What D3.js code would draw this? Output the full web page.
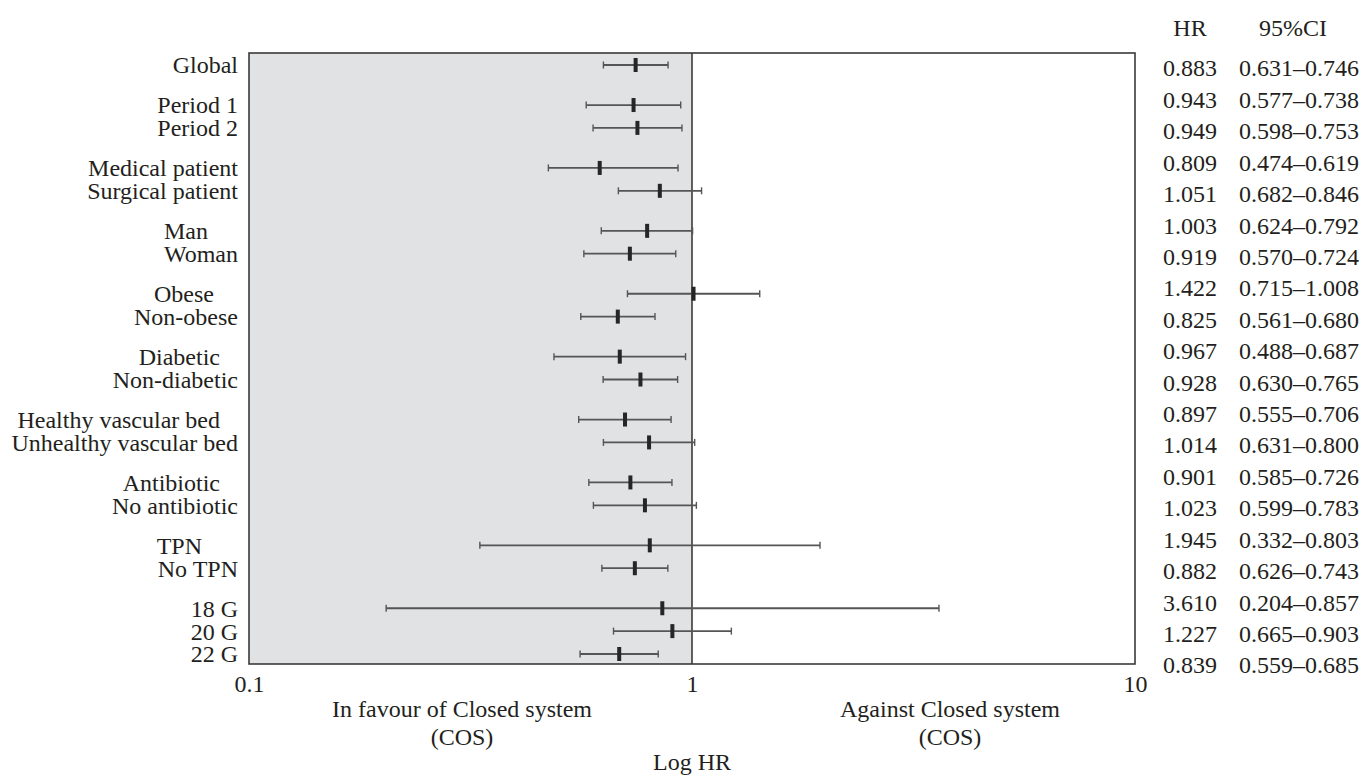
<!DOCTYPE html>
<html>
<head>
<meta charset="utf-8">
<script src="https://cdn.jsdelivr.net/npm/d3@7"></script>
<style>
  body { margin: 0; background: #fff; }
  svg text { font-family: "Liberation Serif", "Times New Roman", serif; fill: #231f20; white-space: pre; }
</style>
</head>
<body>
<div id="canvas"></div>
<script>
// Grupos de filas (cada grupo se separa con un espacio extra).
// Algunas etiquetas llevan espacios al final, como en la figura original.
const groups = [
  ["Global"],
  ["Period 1", "Period 2"],
  ["Medical patient", "Surgical patient"],
  ["Man\u00a0\u00a0\u00a0\u00a0\u00a0", "Woman"],
  ["Obese\u00a0\u00a0\u00a0\u00a0", "Non-obese"],
  ["Diabetic\u00a0\u00a0\u00a0", "Non-diabetic"],
  ["Healthy vascular bed\u00a0\u00a0\u00a0", "Unhealthy vascular bed"],
  ["Antibiotic\u00a0\u00a0\u00a0", "No antibiotic"],
  ["TPN\u00a0\u00a0\u00a0\u00a0\u00a0\u00a0", "No TPN"],
  ["18 G", "20 G", "22 G"]
];

// Columnas de la tabla (tal como aparecen a la derecha)
const hrValues = [0.883, 0.943, 0.949, 0.809, 1.051, 1.003, 0.919, 1.422, 0.825, 0.967,
  0.928, 0.897, 1.014, 0.901, 1.023, 1.945, 0.882, 3.610, 1.227, 0.839];
const ciLow = [0.631, 0.577, 0.598, 0.474, 0.682, 0.624, 0.570, 0.715, 0.561, 0.488,
  0.630, 0.555, 0.631, 0.585, 0.599, 0.332, 0.626, 0.204, 0.665, 0.559];
const ciHigh = [0.746, 0.738, 0.753, 0.619, 0.846, 0.792, 0.724, 1.008, 0.680, 0.687,
  0.765, 0.706, 0.800, 0.726, 0.783, 0.803, 0.743, 0.857, 0.903, 0.685];

// Extremo derecho dibujado de cada barra (en la figura coincide con la columna HR,
// salvo "Medical patient", cuya barra llega mas lejos de lo que dice la tabla)
const whiskerEnd = [0.883, 0.943, 0.949, 0.93, 1.051, 1.003, 0.919, 1.422, 0.825, 0.967,
  0.928, 0.897, 1.014, 0.901, 1.023, 1.945, 0.882, 3.610, 1.227, 0.839];

const xTicks = [0.1, 1, 10];

// Aplanar los grupos en filas
const rows = [];
groups.forEach((g, gi) => {
  g.forEach(label => {
    const i = rows.length;
    rows.push({
      label: label,
      slot: i + gi * 0.75,
      lo: ciLow[i],
      mid: ciHigh[i],
      hr: hrValues[i],
      end: whiskerEnd[i]
    });
  });
});

const width = 1362;
const height = 775;
const plot = { left: 249, right: 1135, top: 53, bottom: 664 };
const fontSize = "24px";

const svg = d3.select("#canvas")
  .append("svg")
  .attr("width", width)
  .attr("height", height);

const x = d3.scaleLog()
  .domain([0.1, 10])
  .range([plot.left, plot.right]);

const y = d3.scaleLinear()
  .domain([0, d3.max(rows, d => d.slot)])
  .range([65, 654]);

// Filas de la tabla, espaciadas de manera uniforme
const yTable = d3.scalePoint()
  .domain(d3.range(rows.length))
  .range([68, 665]);

// Zona sombreada (a favor de COS)
svg.append("rect")
  .attr("x", x(0.1))
  .attr("y", plot.top)
  .attr("width", x(1) - x(0.1))
  .attr("height", plot.bottom - plot.top)
  .style("fill", "#e1e2e4");

// Linea de referencia en HR = 1
svg.append("line")
  .attr("x1", x(1))
  .attr("x2", x(1))
  .attr("y1", plot.top)
  .attr("y2", plot.bottom)
  .style("stroke", "#3a3a3a")
  .style("stroke-width", 1.6);

// Marco
svg.append("rect")
  .attr("x", plot.left)
  .attr("y", plot.top)
  .attr("width", plot.right - plot.left)
  .attr("height", plot.bottom - plot.top)
  .style("fill", "none")
  .style("stroke", "#3a3a3a")
  .style("stroke-width", 1.6);

// Eje x (solo etiquetas)
const xAxis = svg.append("g")
  .attr("transform", `translate(0,${plot.bottom})`)
  .call(d3.axisBottom(x).tickValues(xTicks).tickFormat(d3.format("")).tickSize(0).tickPadding(20));
xAxis.select(".domain").remove();
xAxis.selectAll("text")
  .style("font-size", fontSize)
  .attr("dy", "0.35em")
  .attr("fill", "#231f20");

// Intervalos de confianza
const ci = svg.selectAll(".ci")
  .data(rows)
  .enter()
  .append("g")
  .attr("class", "ci");

ci.append("line")
  .attr("x1", d => x(d.lo))
  .attr("x2", d => x(d.end))
  .attr("y1", d => y(d.slot))
  .attr("y2", d => y(d.slot))
  .style("stroke", "#555")
  .style("stroke-width", 1.8);

ci.selectAll(".cap")
  .data(d => [[d.lo, d.slot], [d.end, d.slot]])
  .enter()
  .append("line")
  .attr("class", "cap")
  .attr("x1", d => x(d[0]))
  .attr("x2", d => x(d[0]))
  .attr("y1", d => y(d[1]) - 3.5)
  .attr("y2", d => y(d[1]) + 3.5)
  .style("stroke", "#555")
  .style("stroke-width", 1.4);

ci.append("rect")
  .attr("x", d => x(d.mid) - 2)
  .attr("y", d => y(d.slot) - 7)
  .attr("width", 4)
  .attr("height", 14)
  .style("fill", "#262626");

// Etiquetas de las filas
svg.selectAll(".label")
  .data(rows)
  .enter()
  .append("text")
  .attr("class", "label")
  .attr("x", 238)
  .attr("y", d => y(d.slot))
  .attr("dy", "0.35em")
  .style("text-anchor", "end")
  .style("font-size", fontSize)
  .text(d => d.label);

// Tabla a la derecha
const fmt = d3.format(".3f");

svg.append("text")
  .attr("x", 1190)
  .attr("y", 28)
  .attr("dy", "0.35em")
  .style("text-anchor", "middle")
  .style("font-size", fontSize)
  .text("HR");

svg.append("text")
  .attr("x", 1293)
  .attr("y", 28)
  .attr("dy", "0.35em")
  .style("text-anchor", "middle")
  .style("font-size", fontSize)
  .text("95%CI");

svg.selectAll(".hr")
  .data(rows)
  .enter()
  .append("text")
  .attr("class", "hr")
  .attr("x", 1217)
  .attr("y", (d, i) => yTable(i))
  .attr("dy", "0.35em")
  .style("text-anchor", "end")
  .style("font-size", fontSize)
  .text(d => fmt(d.hr));

svg.selectAll(".cival")
  .data(rows)
  .enter()
  .append("text")
  .attr("class", "cival")
  .attr("x", 1239)
  .attr("y", (d, i) => yTable(i))
  .attr("dy", "0.35em")
  .style("text-anchor", "start")
  .style("font-size", fontSize)
  .text(d => fmt(d.lo) + "\u2013" + fmt(d.mid));

// Titulos del eje x
const xLabels = svg.append("g").style("font-size", fontSize).style("text-anchor", "middle");
xLabels.append("text").attr("x", 462).attr("y", 717).text("In favour of Closed system");
xLabels.append("text").attr("x", 462).attr("y", 745).text("(COS)");
xLabels.append("text").attr("x", 950).attr("y", 717).text("Against Closed system");
xLabels.append("text").attr("x", 950).attr("y", 745).text("(COS)");
xLabels.append("text").attr("x", x(1)).attr("y", 770).text("Log HR");
</script>
</body>
</html>
